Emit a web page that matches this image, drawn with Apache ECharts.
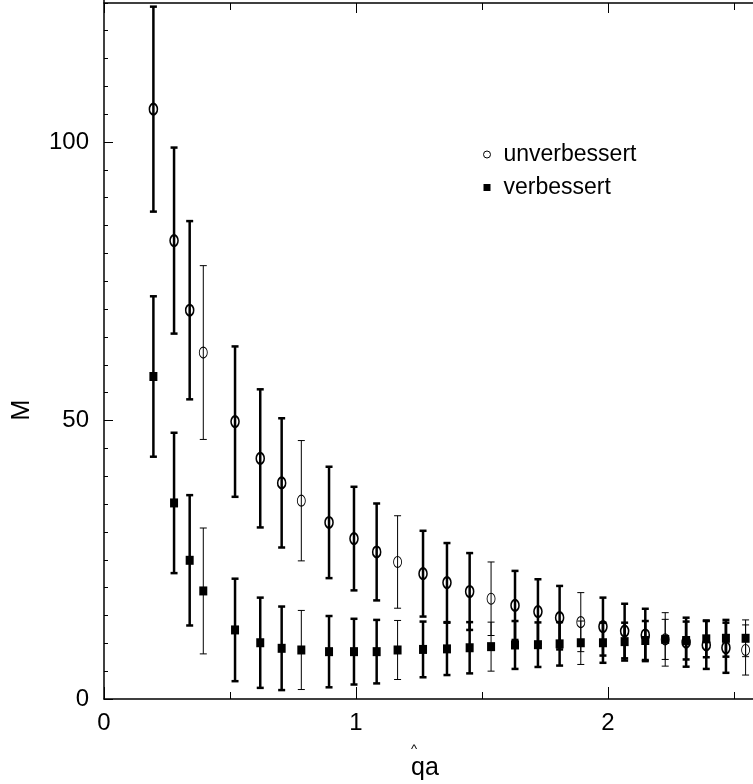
<!DOCTYPE html>
<html><head><meta charset="utf-8">
<script src="https://cdn.jsdelivr.net/npm/echarts@6/dist/echarts.min.js"></script>
<style>html,body{margin:0;padding:0;background:#fff}#c{width:753px;height:784px}</style>
</head><body><div id="c"></div>
<script>
// x positions (q̂a)
const qa = [0.196,0.278,0.340,0.394,0.520,0.620,0.705,0.783,0.893,0.992,1.082,1.165,1.266,1.361,1.451,1.536,1.631,1.722,1.808,1.892,1.980,2.066,2.148,2.227,2.310,2.390,2.468,2.546];
// unverbessert (circles)
const unverb = [105.9,82.3,69.8,62.2,49.8,43.2,38.8,35.6,31.7,28.8,26.4,24.6,22.5,20.9,19.3,18.0,16.8,15.7,14.6,13.8,13.0,12.2,11.5,10.7,10.2,9.7,9.2,8.8];
const unverbErr = [18.4,16.7,16.0,15.6,13.5,12.4,11.6,10.8,10.0,9.3,8.7,8.3,7.7,7.1,6.9,6.6,6.2,5.8,5.7,5.3,5.2,4.9,4.7,4.8,4.4,4.3,4.5,4.5];
// verbessert (squares)
const verb = [57.9,35.2,24.9,19.4,12.4,10.1,9.1,8.8,8.5,8.5,8.5,8.8,8.9,9.0,9.2,9.4,9.7,9.75,9.9,10.1,10.1,10.3,10.5,10.7,10.5,10.8,10.9,10.9];
const verbErr = [14.4,12.6,11.7,11.3,9.2,8.1,7.5,7.1,6.4,5.9,5.7,5.3,5.0,4.7,4.6,4.4,4.3,4.0,3.9,3.9,3.6,3.4,3.5,3.6,3.4,3.3,3.3,3.3];
// axis ticks
const xTickLabels = ['0','1','2'];
const yTickLabels = ['0','50','100'];

const FONT = '"Liberation Sans", Arial, sans-serif';
const isThin = i => i % 4 === 3;
function pts(vals, errs, thin) {
  return qa.map((x, i) => [x, vals[i], errs[i]]).filter((d, i) => isThin(i) === thin);
}
function errBar(lw) {
  return function (params, api) {
    const x = api.value(0), y = api.value(1), e = api.value(2);
    const t = api.coord([x, y + e]), b = api.coord([x, y - e]);
    const h = 3.5;
    const st = { stroke: '#000', lineWidth: lw };
    return { type: 'group', children: [
      { type: 'line', shape: { x1: t[0], y1: t[1], x2: b[0], y2: b[1] }, style: st },
      { type: 'line', shape: { x1: t[0] - h, y1: t[1], x2: t[0] + h, y2: t[1] }, style: st },
      { type: 'line', shape: { x1: b[0] - h, y1: b[1], x2: b[0] + h, y2: b[1] }, style: st }
    ]};
  };
}
const chart = echarts.init(document.getElementById('c'));
chart.setOption({
  animation: false,
  backgroundColor: '#fff',
  grid: [
    { left: 104, width: 756, top: -136.5, bottom: 85, outerBoundsMode: 'none', containLabel: false },
    { left: 104, width: 756, top: 3, height: 20, outerBoundsMode: 'none', containLabel: false }
  ],
  legend: {
    orient: 'vertical', left: 478, top: 138, itemGap: 10,
    itemWidth: 7, itemHeight: 7,
    textStyle: { fontFamily: FONT, fontSize: 23, color: '#000', padding: [0, 0, 0, 8] },
    data: [
      { name: 'unverbessert', icon: 'circle', itemStyle: { color: '#fff', borderColor: '#000', borderWidth: 1, opacity: 1 } },
      { name: 'verbessert', icon: 'rect', itemStyle: { color: '#000', borderWidth: 0, opacity: 1 } }
    ]
  },
  graphic: [{
    type: 'text', x: 425, y: 743, z: 10,
    style: {
      text: '{h|^}{s|}\n{t|qa}', align: 'center', verticalAlign: 'top',
      rich: {
        h: { fontFamily: FONT, fontSize: 13, fill: '#000', lineHeight: 12 },
        s: { width: 22 },
        t: { fontFamily: FONT, fontSize: 25, fill: '#000', lineHeight: 26 }
      }
    }
  }, {
    type: 'text', x: 22, y: 410, rotation: Math.PI / 2, z: 10,
    style: { text: 'M', align: 'center', verticalAlign: 'middle', fontFamily: FONT, fontSize: 25, fill: '#000' }
  }],
  xAxis: [
    { type: 'value', gridIndex: 0, min: 0, max: 3, interval: 1, position: 'bottom',
      axisLine: { onZero: false, lineStyle: { color: '#000', width: 1.5 } },
      axisTick: { inside: true, length: 12, lineStyle: { color: '#000', width: 1 } },
      minorTick: { show: true, splitNumber: 2, length: 7, lineStyle: { color: '#000', width: 1 } },
      splitLine: { show: false }, minorSplitLine: { show: false },
      axisLabel: { fontFamily: FONT, fontSize: 24, color: '#000', margin: 12,
        formatter: v => xTickLabels[Math.round(v)] || '' }
    },
    { type: 'value', gridIndex: 1, min: 0, max: 3, interval: 1, position: 'top',
      axisLine: { onZero: false, lineStyle: { color: '#000', width: 1.5 } },
      axisTick: { inside: true, length: 10, lineStyle: { color: '#000', width: 1 } },
      minorTick: { show: true, splitNumber: 2, length: 7, lineStyle: { color: '#000', width: 1 } },
      splitLine: { show: false }, axisLabel: { show: false }
    }
  ],
  yAxis: [
    { type: 'value', gridIndex: 0, min: 0, max: 150, interval: 50, position: 'left',
      axisLine: { onZero: false, lineStyle: { color: '#000', width: 1.5 } },
      axisTick: { inside: true, length: 9, lineStyle: { color: '#000', width: 1 } },
      minorTick: { show: true, splitNumber: 10, length: 4, lineStyle: { color: '#000', width: 1 } },
      splitLine: { show: false }, minorSplitLine: { show: false },
      axisLabel: { fontFamily: FONT, fontSize: 24, color: '#000', margin: 15,
        formatter: v => yTickLabels[v / 50] || '' }
    },
    { type: 'value', gridIndex: 1, min: 0, max: 1, show: false }
  ],
  series: [
    { name: 'errU', type: 'custom', renderItem: errBar(2.5), data: pts(unverb, unverbErr, false), encode: { x: 0, y: 1 }, z: 2 },
    { name: 'errU2', type: 'custom', renderItem: errBar(1), data: pts(unverb, unverbErr, true), encode: { x: 0, y: 1 }, z: 2 },
    { name: 'errV', type: 'custom', renderItem: errBar(2.5), data: pts(verb, verbErr, false), encode: { x: 0, y: 1 }, z: 2 },
    { name: 'errV2', type: 'custom', renderItem: errBar(1), data: pts(verb, verbErr, true), encode: { x: 0, y: 1 }, z: 2 },
    { name: 'unverbessert', type: 'scatter', symbol: 'circle', symbolSize: [8, 11],
      itemStyle: { color: 'rgba(0,0,0,0)', borderColor: '#000', borderWidth: 1.8, opacity: 1 },
      data: pts(unverb, unverbErr, false), z: 3 },
    { name: 'unverbessert', type: 'scatter', symbol: 'circle', symbolSize: [8, 11],
      itemStyle: { color: 'rgba(0,0,0,0)', borderColor: '#000', borderWidth: 1, opacity: 1 },
      data: pts(unverb, unverbErr, true), z: 3 },
    { name: 'verbessert', type: 'scatter', symbol: 'rect', symbolSize: [8, 9],
      itemStyle: { color: '#000', opacity: 1 }, data: pts(verb, verbErr, false), z: 3 },
    { name: 'verbessert', type: 'scatter', symbol: 'rect', symbolSize: [8, 9],
      itemStyle: { color: '#000', opacity: 1 }, data: pts(verb, verbErr, true), z: 3 }
  ]
});
</script></body></html>
